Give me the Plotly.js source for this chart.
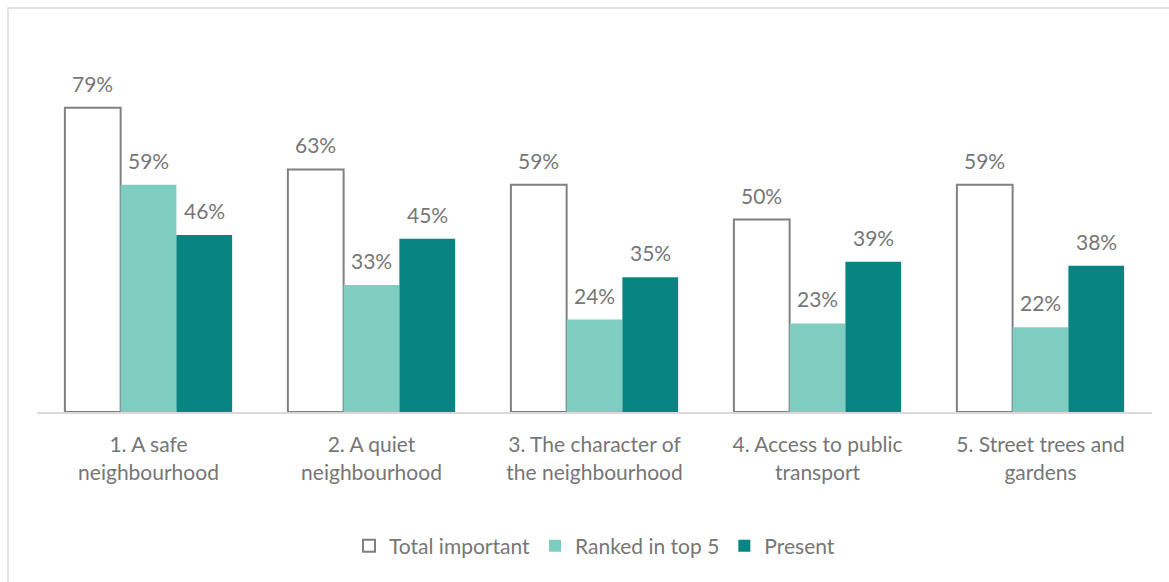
<!DOCTYPE html>
<html>
<head>
<meta charset="utf-8">
<script src="https://cdn.plot.ly/plotly-3.0.1.min.js"></script>
<style>
  body { margin: 0; padding: 0; background: #ffffff; }
  #wrap { position: relative; width: 1169px; height: 582px; }
  #chart { position: absolute; left: 0; top: 0; width: 1169px; height: 582px; }
  #frame { position: absolute; left: 7px; top: 7px; width: 1200px; height: 600px;
           border-left: 2px solid #e3e3e3; border-top: 2px solid #e3e3e3; pointer-events: none; }
</style>
</head>
<body>
<div id="wrap">
  <div id="chart"></div>
  <div id="frame"></div>
</div>
<script>
const categories = [
  "1. A safe<br>neighbourhood",
  "2. A quiet<br>neighbourhood",
  "3. The character of<br>the neighbourhood",
  "4. Access to public<br>transport",
  "5. Street trees and<br>gardens"
];
const totalImportant = [79, 63, 59, 50, 59];
const rankedTop5 = [59, 33, 24, 23, 22];
const present = [46, 45, 35, 39, 38];
const seriesNames = ["Total important", "Ranked in top 5", "Present"];

const fontFam = "Lato, 'Open Sans', sans-serif";
const textColor = "#767676";
const fs = 21;

const W = 1169, H = 582;
const margin = { l: 37, r: 17, t: 27, b: 170 };
const bargap = 0.25;
const plotW = W - margin.l - margin.r;
const barPx = plotW / categories.length * (1 - bargap) / 3;

const allSeries = [totalImportant, rankedTop5, present];
const annotations = [];
allSeries.forEach((vals, si) => {
  vals.forEach((v, ci) => {
    annotations.push({
      x: categories[ci], y: v, xref: "x", yref: "y",
      xshift: (si - 1) * barPx, yshift: 10,
      text: v + "%", showarrow: false, yanchor: "bottom", xanchor: "center",
      font: { family: fontFam, size: fs, color: textColor }
    });
  });
});

const traces = [
  {
    type: "bar", name: seriesNames[0], x: categories, y: totalImportant,
    marker: { color: "#ffffff", line: { color: "#808080", width: 2 } },
    hoverinfo: "skip"
  },
  {
    type: "bar", name: seriesNames[1], x: categories, y: rankedTop5,
    marker: { color: "#7fcdc0", line: { width: 0 } },
    hoverinfo: "skip"
  },
  {
    type: "bar", name: seriesNames[2], x: categories, y: present,
    marker: { color: "#088482", line: { width: 0 } },
    hoverinfo: "skip"
  }
];

const layout = {
  width: W, height: H,
  margin: margin,
  paper_bgcolor: "rgba(0,0,0,0)",
  plot_bgcolor: "rgba(0,0,0,0)",
  barmode: "group",
  bargap: bargap,
  bargroupgap: 0,
  font: { family: fontFam, size: fs, color: textColor },
  showlegend: true,
  legend: {
    orientation: "h", x: 0.5, xanchor: "center", y: -0.348, yanchor: "middle",
    font: { family: fontFam, size: fs, color: textColor },
    traceorder: "normal", itemwidth: 30
  },
  annotations: annotations,
  xaxis: {
    showline: true, linecolor: "#d9d9d9", linewidth: 2,
    ticks: "", showgrid: false, zeroline: false,
    tickfont: { family: fontFam, size: fs, color: textColor },
    ticklabelstandoff: 13
  },
  yaxis: {
    range: [0, 100], visible: false, showgrid: false, zeroline: false
  }
};

Plotly.newPlot("chart", traces, layout, { displayModeBar: false, staticPlot: true });
</script>
</body>
</html>
